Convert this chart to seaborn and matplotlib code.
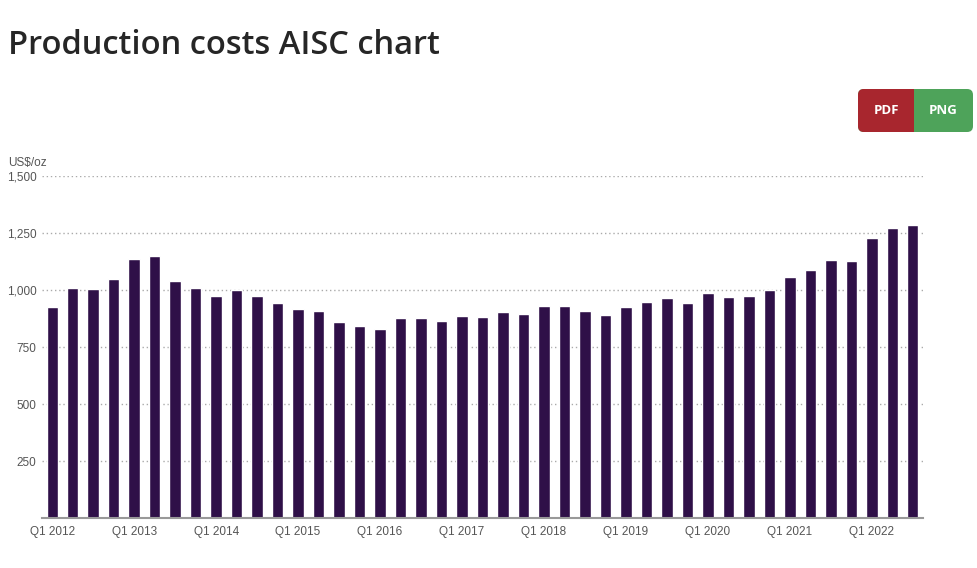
import matplotlib
matplotlib.use('Agg')
import matplotlib.pyplot as plt
from matplotlib.patches import FancyBboxPatch, Rectangle
import seaborn as sns
import pandas as pd

# Quarterly all-in sustaining cost (US$/oz), Q1 2012 - Q3 2022
years = list(range(2012, 2023))
quarters = [f'Q{q} {y}' for y in years for q in range(1, 5)][:43]
aisc = [927, 1010, 1006, 1050, 1138, 1151, 1041, 1010, 975, 1000,
        975, 944, 918, 909, 861, 843, 830, 878, 878, 865,
        887, 883, 905, 896, 931, 931, 909, 892, 927, 949,
        966, 944, 988, 970, 975, 1001, 1059, 1089, 1133, 1129,
        1230, 1274, 1287]
y_ticks = [250, 500, 750, 1000, 1250, 1500]

BAR_COLOR = '#2f1048'
TEXT_GREY = '#555555'

sns.set_style('white')
plt.rcParams['font.family'] = ['Liberation Sans', 'DejaVu Sans']

df = pd.DataFrame({'quarter': quarters, 'aisc': aisc})

fig = plt.figure(figsize=(9.77, 5.68), dpi=100)
ax = fig.add_axes([42 / 977, (568 - 518) / 568, 881 / 977, 341.6 / 568])

sns.barplot(data=df, x='quarter', y='aisc', color=BAR_COLOR, width=0.56,
            saturation=1, ax=ax, zorder=3)

ax.set_xlim(-0.5, len(quarters) - 0.5)
ax.set_ylim(0, 1500)
ax.set_yticks(y_ticks)
ax.set_yticklabels([f'{v:,}' for v in y_ticks])
ax.yaxis.grid(True, color='#aaaaaa', linestyle=(0, (1, 2)), linewidth=1.0)
ax.set_axisbelow(True)

tick_pos = list(range(0, len(quarters), 4))
ax.set_xticks(tick_pos)
ax.set_xticklabels([quarters[i] for i in tick_pos])
ax.tick_params(axis='both', length=0, labelsize=8.5, colors=TEXT_GREY)
ax.tick_params(axis='x', pad=6)
ax.tick_params(axis='y', pad=4)

ax.set_xlabel('')
ax.set_ylabel('')
for side in ['top', 'right', 'left']:
    ax.spines[side].set_visible(False)
ax.spines['bottom'].set_color('#999999')
ax.spines['bottom'].set_linewidth(1.5)
ax.spines['bottom'].set_zorder(4)

# unit label
fig.text(8 / 977, 1 - 163 / 568, 'US$/oz', fontsize=8.5, color=TEXT_GREY,
         ha='left', va='center')

# title
fig.text(8 / 977, 1 - 45 / 568, 'Production costs AISC chart', fontsize=23.5,
         color='#262626', ha='left', va='center', family=['Open Sans', 'DejaVu Sans'],
         fontweight='semibold')

# export buttons
bx, by, bw, bh = 858 / 977, 1 - 132 / 568, 115 / 977, 43 / 568
split = 914 / 977
fig.patches.append(FancyBboxPatch((bx, by), bw, bh, boxstyle='round,pad=0,rounding_size=0.006',
                                  transform=fig.transFigure, facecolor='#4ea35a',
                                  edgecolor='none', mutation_aspect=977 / 568))
fig.patches.append(FancyBboxPatch((bx, by), split - bx, bh, boxstyle='round,pad=0,rounding_size=0.006',
                                  transform=fig.transFigure, facecolor='#a8262e',
                                  edgecolor='none', mutation_aspect=977 / 568))
fig.patches.append(Rectangle((split - 0.008, by), 0.008, bh, transform=fig.transFigure,
                             facecolor='#a8262e', edgecolor='none'))
fig.text((bx + split) / 2, by + bh / 2, 'PDF', color='white', fontsize=9.5,
         fontweight='bold', ha='center', va='center', family=['Open Sans', 'DejaVu Sans'])
fig.text((split + bx + bw) / 2, by + bh / 2, 'PNG', color='white', fontsize=9.5,
         fontweight='bold', ha='center', va='center', family=['Open Sans', 'DejaVu Sans'])

fig.savefig('out.png', dpi=100, facecolor='white')
